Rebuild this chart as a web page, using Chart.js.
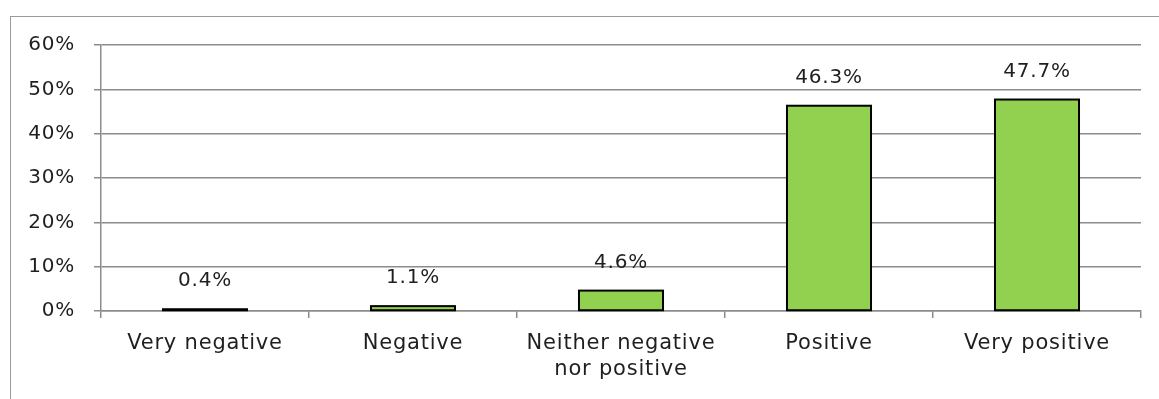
<!DOCTYPE html>
<html>
<head>
<meta charset="utf-8">
<script src="https://cdn.jsdelivr.net/npm/chart.js@4"></script>
<style>
html,body{margin:0;padding:0;background:#fff;overflow:hidden;}
#wrap{width:1159px;height:399px;position:relative;}
#frame{position:absolute;left:10px;top:16px;right:0;bottom:0;border-top:1.5px solid #9a9a9a;border-left:1.5px solid #9a9a9a;pointer-events:none;}
canvas{position:absolute;left:0;top:0;}
</style>
</head>
<body>
<div id="wrap"><canvas id="c" width="1159" height="399"></canvas><div id="frame"></div></div>
<script>
const categories = [["Very negative"], ["Negative"], ["Neither negative", "nor positive"], ["Positive"], ["Very positive"]];
const values = [0.4, 1.1, 4.6, 46.3, 47.7];
const valueLabels = ["0.4%", "1.1%", "4.6%", "46.3%", "47.7%"];
const yTicks = [0, 10, 20, 30, 40, 50, 60];

const FONT = "'DejaVu Sans', sans-serif";
const SPACING = '0.8px';

const spacingPlugin = {
  id: 'spacing',
  beforeDraw(chart) {
    chart.ctx.letterSpacing = SPACING;
  }
};

const barOutline = {
  id: 'barOutline',
  afterDatasetsDraw(chart) {
    const ctx = chart.ctx;
    const meta = chart.getDatasetMeta(0);
    ctx.save();
    ctx.strokeStyle = '#000';
    ctx.lineWidth = 2;
    meta.data.forEach(bar => {
      const p = bar.getProps(['x', 'y', 'base', 'width'], true);
      const left = p.x - p.width / 2;
      ctx.strokeRect(left, p.y, p.width, p.base - p.y);
    });
    ctx.restore();
  }
};

const dataLabels = {
  id: 'dataLabels',
  afterDatasetsDraw(chart) {
    const ctx = chart.ctx;
    const meta = chart.getDatasetMeta(0);
    ctx.save();
    ctx.letterSpacing = SPACING;
    ctx.font = '20px ' + FONT;
    ctx.fillStyle = '#1f1f1f';
    ctx.textAlign = 'center';
    ctx.textBaseline = 'middle';
    meta.data.forEach((bar, i) => {
      ctx.fillText(valueLabels[i], bar.x, bar.y - 28);
    });
    ctx.restore();
  }
};

new Chart(document.getElementById('c'), {
  type: 'bar',
  data: {
    labels: categories,
    datasets: [{
      data: values,
      backgroundColor: '#92D050',
      borderWidth: 0,
      barPercentage: 0.404,
      categoryPercentage: 1.0
    }]
  },
  options: {
    responsive: false,
    animation: false,
    layout: { padding: { left: 0, right: 18, top: 45, bottom: 0 } },
    plugins: { legend: { display: false }, tooltip: { enabled: false } },
    scales: {
      y: {
        min: 0, max: 60,
        afterBuildTicks(scale) { scale.ticks = yTicks.map(v => ({ value: v })); },
        afterFit(scale) { scale.width = 101; },
        ticks: {
          callback: v => v + '%',
          font: { size: 20, family: FONT },
          color: '#1f1f1f',
          padding: 19
        },
        grid: { color: '#8c8c8c', lineWidth: 1.5, tickLength: 7 },
        border: { color: '#8c8c8c', width: 1.5 }
      },
      x: {
        afterFit(scale) { scale.height = 88; },
        ticks: {
          font: { size: 21, family: FONT, lineHeight: 1.25 },
          color: '#1f1f1f',
          padding: 12,
          maxRotation: 0
        },
        grid: { offset: true, drawOnChartArea: false, color: '#8c8c8c', lineWidth: 1.5, tickLength: 7 },
        border: { color: '#8c8c8c', width: 1.5 }
      }
    }
  },
  plugins: [spacingPlugin, barOutline, dataLabels]
});
</script>
</body>
</html>
